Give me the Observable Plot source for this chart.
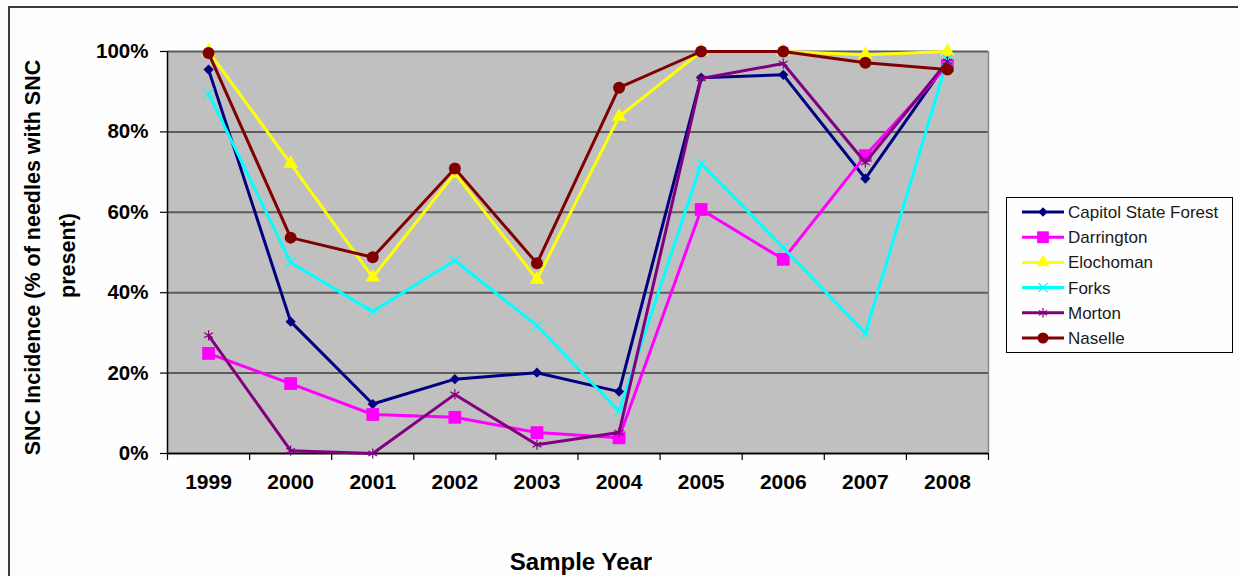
<!DOCTYPE html>
<html>
<head>
<meta charset="utf-8">
<script src="https://cdn.jsdelivr.net/npm/d3@7"></script>
<script src="https://cdn.jsdelivr.net/npm/@observablehq/plot@0.6"></script>
<style>
  body { margin: 0; background: #fdfefd; }
  #chart { position: relative; width: 1238px; height: 576px; overflow: hidden;
           font-family: "Liberation Sans", Arial, sans-serif; background: #fdfefd; }
  #border { position: absolute; left: 8px; top: 6px; width: 3000px; height: 3000px;
            border-top: 2px solid #3c3c3c; border-left: 2px solid #3c3c3c; pointer-events: none; }
  #legend { position: absolute; left: 1006px; top: 197px; width: 225px; height: 154px;
            border: 1px solid #000; background: #fdfefd; }
  #legend svg { display: block; }
</style>
</head>
<body>
<div id="chart"><div id="border"></div></div>
<script>
// Sample years and SNC incidence (% of needles with SNC present) per site
const years = [1999, 2000, 2001, 2002, 2003, 2004, 2005, 2006, 2007, 2008];
const sites = ["Capitol State Forest", "Darrington", "Elochoman", "Forks", "Morton", "Naselle"];

const capitol    = [95.5, 32.8, 12.3, 18.5, 20.1, 15.4, 93.5, 94.2, 68.4, 97.5];
const darrington = [24.9, 17.4,  9.7,  9.0,  5.2,  3.9, 60.7, 48.3, 74.1, 96.5];
const elochoman  = [100, 72.1, 43.8, 69.7, 43.3, 83.8, 100, 100, 99.2, 100];
const forks      = [89.5, 47.5, 35.3, 48.0, 31.8, 10.5, 72.1, 51.2, 29.9, 98.0];
const morton     = [29.4,  0.7,  0.0, 14.7,  2.2,  5.2, 93.3, 97.0, 72.4, 97.5];
const naselle    = [99.6, 53.7, 48.8, 70.9, 47.3, 91.0, 100, 100, 97.2, 95.5];

const yTicks = [0, 20, 40, 60, 80, 100];

// Styling per site (line colour, marker shape, marker radius, filled marker?)
const siteColors  = ["#000080", "#ff00ff", "#ffff00", "#00ffff", "#800080", "#800000"];
const siteSymbols = ["diamond2", "square", "triangle", "times", "asterisk", "circle"];
const siteRadii   = [4.6, 7.2, 5.4, 4.6, 4.8, 6];
const siteFilled  = [true, true, true, false, false, true];

const seriesValues = [capitol, darrington, elochoman, forks, morton, naselle];
const series = sites.map((site, i) =>
  years.map((year, j) => ({site, year, value: seriesValues[i][j]}))
);

const boundaries = d3.range(years[0] - 0.5, years[years.length - 1] + 1, 1);

const seriesMarks = series.flatMap((rows, i) => [
  Plot.line(rows, {x: "year", y: "value", stroke: siteColors[i], strokeWidth: 3}),
  Plot.dot(rows, {
    x: "year", y: "value", symbol: siteSymbols[i], r: siteRadii[i],
    fill: siteFilled[i] ? siteColors[i] : "none",
    stroke: siteFilled[i] ? "none" : siteColors[i],
    strokeWidth: 1.2
  })
]);

const chart = Plot.plot({
  width: 1238,
  height: 576,
  marginLeft: 167,
  marginRight: 250,
  marginTop: 51,
  marginBottom: 123,
  style: {fontFamily: "'Liberation Sans', Arial, sans-serif", background: "transparent", color: "#000"},
  x: {type: "linear", domain: [boundaries[0], boundaries[boundaries.length - 1]]},
  y: {domain: [0, 100]},
  marks: [
    Plot.frame({fill: "#c0c0c0", stroke: "none"}),
    Plot.gridY(yTicks, {stroke: "#5c5c5c", strokeOpacity: 1, strokeWidth: 2}),
    Plot.ruleX([boundaries[boundaries.length - 1]], {stroke: "#8a8a8a", strokeWidth: 1.5}),
    Plot.ruleX([boundaries[0]], {stroke: "#000", strokeWidth: 1.5}),
    Plot.ruleY([0], {stroke: "#000", strokeWidth: 1.5}),
    Plot.axisY(yTicks, {
      tickSize: 7, tickPadding: 12, tickFormat: d => d + "%",
      fontSize: 20.5, fontWeight: "bold", label: null, strokeWidth: 1.2
    }),
    Plot.axisX(boundaries, {tickSize: 7, tickFormat: () => "", label: null, strokeWidth: 1.2}),
    Plot.axisX(years, {
      tickSize: 0, tickPadding: 21, tickFormat: d => String(d),
      fontSize: 21, fontWeight: "bold", label: null
    }),
    Plot.text(["SNC Incidence (% of needles with SNC"], {
      frameAnchor: "left", textAnchor: "middle", dx: -134, dy: 5, rotate: -90,
      fontSize: 21.5, fontWeight: "bold"
    }),
    Plot.text(["present)"], {
      frameAnchor: "left", textAnchor: "middle", dx: -99, dy: 3, rotate: -90,
      fontSize: 21.5, fontWeight: "bold"
    }),
    Plot.text(["Sample Year"], {
      frameAnchor: "bottom", textAnchor: "middle", dx: 3, dy: 116, fontSize: 24, fontWeight: "bold"
    }),
    ...seriesMarks
  ]
});

const host = document.getElementById("chart");
host.insertBefore(chart, host.firstChild);

// Legend: line + marker swatch and site name for each series
const legend = document.createElement("div");
legend.id = "legend";
host.appendChild(legend);

const d3Symbols = {
  diamond2: d3.symbolDiamond2, square: d3.symbolSquare, triangle: d3.symbolTriangle,
  times: d3.symbolTimes, asterisk: d3.symbolAsterisk, circle: d3.symbolCircle
};

const lsvg = d3.select(legend).append("svg").attr("width", 225).attr("height", 154);
const rowStep = 25.2;
const items = lsvg.selectAll("g").data(sites).join("g")
  .attr("transform", (d, i) => `translate(0,${14 + i * rowStep})`);
items.append("line")
  .attr("x1", 15).attr("x2", 57).attr("y1", 0).attr("y2", 0)
  .attr("stroke", (d, i) => siteColors[i]).attr("stroke-width", 3);
items.append("path")
  .attr("transform", "translate(36,0)")
  .attr("d", (d, i) => d3.symbol(d3Symbols[siteSymbols[i]], Math.PI * siteRadii[i] ** 2 * 0.85)())
  .attr("fill", (d, i) => siteFilled[i] ? siteColors[i] : "none")
  .attr("stroke", (d, i) => siteFilled[i] ? "none" : siteColors[i])
  .attr("stroke-width", 1.2);
items.append("text")
  .attr("x", 61).attr("y", 0).attr("dy", "0.35em")
  .attr("font-size", 17).attr("fill", "#1a1a1a")
  .attr("font-family", "'Liberation Sans', Arial, sans-serif")
  .text(d => d);
</script>
</body>
</html>
